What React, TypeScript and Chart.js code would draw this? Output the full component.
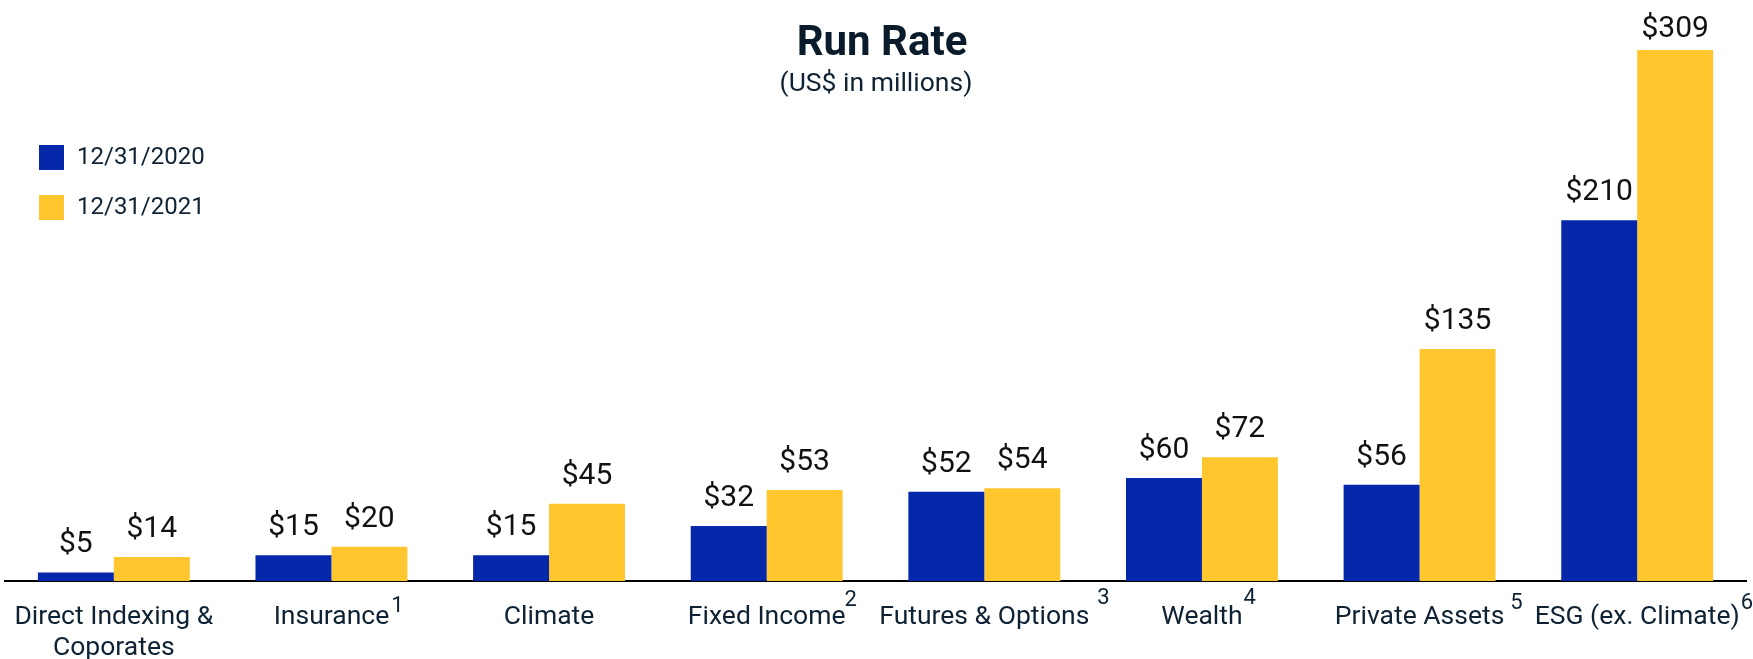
import React, { useEffect, useRef } from 'react';
import { Chart, registerables } from 'chart.js';

Chart.register(...registerables);

const categories: (string | string[])[] = [
  ['Direct Indexing &', 'Coporates'],
  'Insurance',
  'Climate',
  'Fixed Income',
  'Futures & Options',
  'Wealth',
  'Private Assets',
  'ESG (ex. Climate)',
];
const footnotes = ['', '1', '', '2', '3', '4', '5', '6'];
const seriesLabels = ['12/31/2020', '12/31/2021'];
const values2020 = [5, 15, 15, 32, 52, 60, 56, 210];
const values2021 = [14, 20, 45, 53, 54, 72, 135, 309];
const titleText = 'Run Rate';
const subtitleText = '(US$ in millions)';

const BLUE = '#0527A9';
const YELLOW = '#FFC62E';
const NAVY = '#0E2233';
const FONT = 'Roboto';

// per-footnote placement tweaks (style only)
const supGap = [0, 2, 0, -1, 8, 1, 6, 1];
const supRaise = [0, 13, 0, 19, 21, 21, 16, 16];

const TICK_SIZE = 26.5;
const TICK_LH = 1.2;
const TICK_PAD = 20;

const titlePlugin = {
  id: 'customTitle',
  afterDraw(chart: any) {
    const ctx = chart.ctx;
    ctx.save();
    ctx.fillStyle = '#0A1C2B';
    ctx.textAlign = 'center';
    ctx.textBaseline = 'alphabetic';
    ctx.font = `bold 42px ${FONT}`;
    ctx.fillText(titleText, 882, 55);
    ctx.fillStyle = NAVY;
    ctx.font = `26.5px ${FONT}`;
    ctx.fillText(subtitleText, 876, 91);
    ctx.restore();
  },
};

const legendPlugin = {
  id: 'customLegend',
  afterDraw(chart: any) {
    const ctx = chart.ctx;
    ctx.save();
    chart.data.datasets.forEach((ds: any, i: number) => {
      const y = 145 + i * 50;
      ctx.fillStyle = ds.backgroundColor;
      ctx.fillRect(39, y, 25, 25);
      ctx.fillStyle = NAVY;
      ctx.font = `24px ${FONT}`;
      ctx.textAlign = 'left';
      ctx.textBaseline = 'middle';
      ctx.fillText(ds.label, 77, y + 13);
    });
    ctx.restore();
  },
};

const dataLabelPlugin = {
  id: 'dataLabels',
  afterDatasetsDraw(chart: any) {
    const ctx = chart.ctx;
    ctx.save();
    ctx.fillStyle = '#111111';
    ctx.font = `30px ${FONT}`;
    ctx.textAlign = 'center';
    ctx.textBaseline = 'alphabetic';
    chart.data.datasets.forEach((ds: any, di: number) => {
      const meta = chart.getDatasetMeta(di);
      meta.data.forEach((bar: any, i: number) => {
        const y = Math.max(bar.y - 20, 37);
        ctx.fillText('$' + ds.data[i], bar.x, y);
      });
    });
    ctx.restore();
  },
};

const footnotePlugin = {
  id: 'footnotes',
  afterDraw(chart: any) {
    const ctx = chart.ctx;
    const xs = chart.scales.x;
    ctx.save();
    ctx.fillStyle = NAVY;
    ctx.textAlign = 'left';
    ctx.textBaseline = 'alphabetic';
    const baseline = xs.top + 44;
    footnotes.forEach((fn, i) => {
      if (!fn) return;
      const lab = categories[i];
      const line = Array.isArray(lab) ? lab[0] : lab;
      ctx.font = `${TICK_SIZE}px ${FONT}`;
      const w = ctx.measureText(line).width;
      const x = xs.getPixelForValue(i) + w / 2 + supGap[i];
      ctx.font = `22px ${FONT}`;
      ctx.fillText(fn, x, baseline - supRaise[i]);
    });
    ctx.restore();
  },
};

export default function App() {
  const ref = useRef<HTMLCanvasElement>(null);
  useEffect(() => {
    if (!ref.current) return;
    const chart = new Chart(ref.current, {
      type: 'bar',
      data: {
        labels: categories,
        datasets: [
          {
            label: seriesLabels[0],
            data: values2020,
            backgroundColor: BLUE,
            borderWidth: 0,
            categoryPercentage: 0.698,
            barPercentage: 1.0,
          },
          {
            label: seriesLabels[1],
            data: values2021,
            backgroundColor: YELLOW,
            borderWidth: 0,
            categoryPercentage: 0.698,
            barPercentage: 1.0,
          },
        ],
      },
      options: {
        responsive: false,
        animation: false,
        devicePixelRatio: 1,
        layout: { padding: { left: 5, right: 7, top: 14, bottom: 0 } },
        plugins: {
          legend: { display: false },
          title: { display: false },
          tooltip: { enabled: false },
        },
        scales: {
          x: {
            grid: { display: false, drawTicks: false },
            border: { display: true, color: '#000000', width: 2 },
            ticks: {
              color: NAVY,
              padding: TICK_PAD,
              maxRotation: 0,
              minRotation: 0,
              autoSkip: false,
              font: { family: FONT, size: TICK_SIZE, lineHeight: TICK_LH },
            },
            afterFit: (scale: any) => {
              scale.height = 78;
              scale.paddingLeft = 0;
              scale.paddingRight = 0;
            },
          },
          y: {
            display: false,
            min: 0,
            max: 330,
          },
        },
      },
      plugins: [titlePlugin, legendPlugin, dataLabelPlugin, footnotePlugin],
    } as any);
    return () => chart.destroy();
  }, []);
  return (
    <div style={{ position: 'fixed', left: 0, top: 0, width: 1753, height: 659, background: '#fff' }}>
      <canvas ref={ref} width={1753} height={659} style={{ width: 1753, height: 659 }} />
    </div>
  );
}
